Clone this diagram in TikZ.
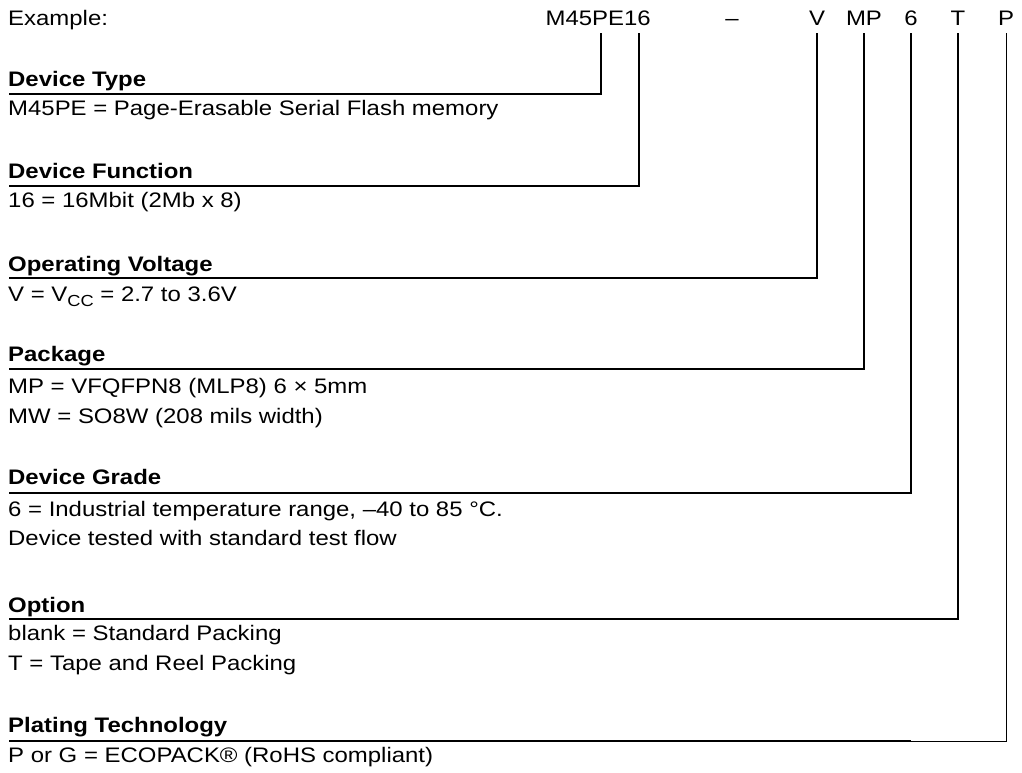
\documentclass[tikz,border=0pt]{standalone}
\usepackage{fontspec}
\setmainfont{Liberation Sans}[FakeStretch=1.14]
\usetikzlibrary{positioning}

\newcommand{\partfont}{\fontsize{21}{25}\selectfont}

\tikzset{
    entry/.style={anchor=base west, inner sep=0pt},
    heading/.style={entry, font=\partfont\bfseries},
    code/.style={anchor=base, inner sep=0pt},
    rule/.style={line width=1.8pt},
    thinrule/.style={line width=1pt}
}

\begin{document}
\begin{tikzpicture}[x=1pt, y=-1pt, font=\partfont]
    \useasboundingbox (0,0) rectangle (1022,772);

    \node[entry] (example) at (8,25) {Example:};
    \node[code, anchor=base east] (device) at (651,25) {M45PE16};
    \node[code] (dash) at (732,25) {–};
    \node[code] (volt) at (817,25) {V};
    \node[code] (pack) at (864,25) {MP};
    \node[code] (grade) at (911,25) {6};
    \node[code] (option) at (958,25) {T};
    \node[code] (plating) at (1006,25) {P};

    \coordinate (tType) at (601,33);
    \coordinate (tFunc) at (639,33);
    \coordinate[below=8pt of volt] (tVolt);
    \coordinate[below=8pt of pack] (tPack);
    \coordinate[below=8pt of grade] (tGrade);
    \coordinate[below=8pt of option] (tOption);
    \coordinate[below=8pt of plating] (tPlating);

    \node[heading] (hType) at (8,86) {Device Type};
    \node[entry] (eType) at (8,115) {M45PE = Page-Erasable Serial Flash memory};
    \coordinate (lType) at (9,94);
    \draw[rule] (lType) -| (tType);

    \node[heading] (hFunc) at (8,178) {Device Function};
    \node[entry] (eFunc) at (8,207) {16 = 16Mbit (2Mb x 8)};
    \coordinate (lFunc) at (9,186);
    \draw[rule] (lFunc) -| (tFunc);

    \node[heading] (hVolt) at (8,271) {Operating Voltage};
    \node[entry] (eVolt) at (8,301) {V = V\raisebox{-5pt}{\fontsize{16}{16}\selectfont CC} = 2.7 to 3.6V};
    \coordinate (lVolt) at (9,278);
    \draw[rule] (lVolt) -| (tVolt);

    \node[heading] (hPack) at (8,361) {Package};
    \node[entry] (ePackA) at (8,393) {MP = VFQFPN8 (MLP8) 6 × 5mm};
    \node[entry] (ePackB) at (8,423) {MW = SO8W (208 mils width)};
    \coordinate (lPack) at (9,369);
    \draw[rule] (lPack) -| (tPack);

    \node[heading] (hGrade) at (8,484) {Device Grade};
    \node[entry] (eGradeA) at (8,516) {6 = Industrial temperature range, –40 to 85 °C.};
    \node[entry] (eGradeB) at (8,545) {Device tested with standard test flow};
    \coordinate (lGrade) at (9,493);
    \draw[rule] (lGrade) -| (tGrade);

    \node[heading] (hOption) at (8,612) {Option};
    \node[entry] (eOptionA) at (8,640) {blank = Standard Packing};
    \node[entry] (eOptionB) at (8,670) {T = Tape and Reel Packing};
    \coordinate (lOption) at (9,619);
    \draw[rule] (lOption) -| (tOption);

    \node[heading] (hPlating) at (8,732) {Plating Technology};
    \node[entry] (ePlating) at (8,762) {P or G = ECOPACK® (RoHS compliant)};
    \coordinate (lPlating) at (9,741);
    \coordinate (mPlating) at (911,741);
    \draw[rule] (lPlating) -- (mPlating);
    \draw[thinrule] (mPlating) -| (tPlating);
\end{tikzpicture}
\end{document}
